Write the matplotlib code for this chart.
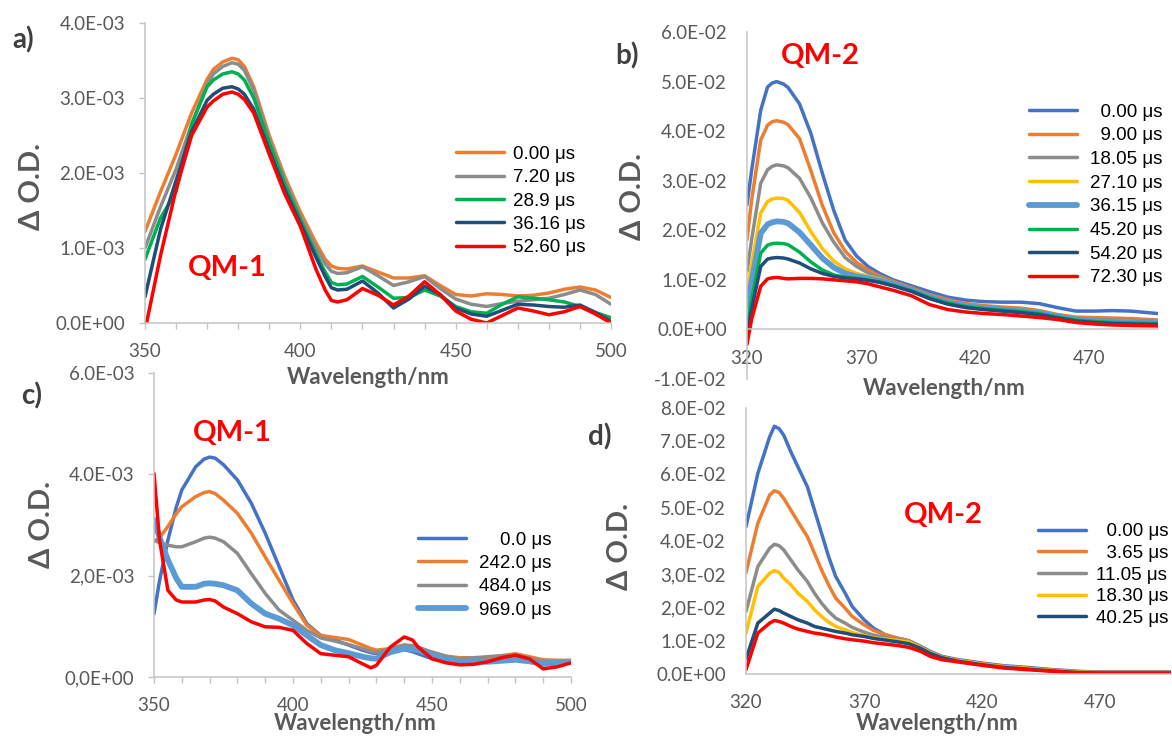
import matplotlib
matplotlib.use("Agg")
import matplotlib.pyplot as plt
from matplotlib.ticker import MultipleLocator

plt.rcParams["font.family"] = ["Lato", "DejaVu Sans"]

W, H = 1172, 737

# ---------------- a) QM-1, short delays (units of 1E-3) ----------------
wl_a = [350, 355, 360, 365, 370, 372, 375, 378, 380, 382, 385, 390, 395, 400, 405, 408, 410, 412,
        415, 420, 425, 430, 435, 440, 445, 450, 455, 460, 465, 470, 475, 480, 485, 490, 495, 500]
a_0_00 = [1.22, 1.75, 2.25, 2.80, 3.25, 3.38, 3.48, 3.53, 3.51, 3.42, 3.15, 2.50, 1.95, 1.48, 1.07, 0.85, 0.76, 0.73,
          0.72, 0.76, 0.68, 0.60, 0.60, 0.63, 0.50, 0.38, 0.36, 0.39, 0.38, 0.36, 0.37, 0.40, 0.45, 0.48, 0.44, 0.34]
a_7_20 = [1.00, 1.55, 2.05, 2.65, 3.18, 3.32, 3.42, 3.47, 3.45, 3.37, 3.10, 2.45, 1.90, 1.42, 1.00, 0.79, 0.69, 0.66,
          0.67, 0.75, 0.63, 0.50, 0.55, 0.62, 0.46, 0.32, 0.25, 0.22, 0.26, 0.29, 0.31, 0.33, 0.38, 0.44, 0.38, 0.25]
a_28_9 = [0.85, 1.40, 1.75, 2.65, 3.15, 3.24, 3.32, 3.35, 3.32, 3.24, 3.00, 2.40, 1.85, 1.38, 0.92, 0.68, 0.54, 0.51,
          0.52, 0.62, 0.48, 0.33, 0.34, 0.44, 0.36, 0.22, 0.15, 0.13, 0.25, 0.35, 0.33, 0.31, 0.28, 0.22, 0.14, 0.07]
a_36_16 = [0.35, 1.25, 1.90, 2.55, 2.97, 3.05, 3.13, 3.15, 3.12, 3.05, 2.85, 2.30, 1.78, 1.33, 0.88, 0.62, 0.47, 0.44,
           0.45, 0.56, 0.40, 0.20, 0.32, 0.49, 0.38, 0.20, 0.12, 0.09, 0.17, 0.25, 0.24, 0.22, 0.21, 0.24, 0.14, 0.02]
a_52_60 = [-0.10, 0.90, 1.78, 2.50, 2.88, 2.96, 3.05, 3.08, 3.05, 2.98, 2.80, 2.25, 1.72, 1.29, 0.72, 0.44, 0.30, 0.28,
           0.31, 0.46, 0.37, 0.24, 0.36, 0.55, 0.38, 0.16, 0.05, 0.00, 0.10, 0.20, 0.16, 0.11, 0.15, 0.22, 0.12, 0.00]
labels_a = ["0.00 μs", "7.20 μs", "28.9 μs", "36.16 μs", "52.60 μs"]

# ---------------- b) QM-2 (units of 1E-2) ----------------
wl_b = [320, 322, 326, 329, 331, 333, 336, 338, 343, 348, 353, 358, 363, 368, 373, 378, 384, 392,
        400, 408, 416, 424, 432, 440, 448, 456, 464, 472, 480, 488, 500]
b_0_00 = [2.51, 3.20, 4.42, 4.89, 4.97, 5.00, 4.95, 4.88, 4.55, 3.95, 3.15, 2.40, 1.80, 1.48, 1.27, 1.13, 1.00, 0.88,
          0.76, 0.65, 0.59, 0.56, 0.55, 0.55, 0.52, 0.44, 0.37, 0.37, 0.38, 0.37, 0.32]
b_9_00 = [1.81, 2.60, 3.82, 4.12, 4.19, 4.21, 4.18, 4.13, 3.85, 3.20, 2.50, 1.95, 1.58, 1.35, 1.20, 1.08, 0.97, 0.84,
          0.70, 0.60, 0.52, 0.48, 0.45, 0.43, 0.38, 0.30, 0.25, 0.24, 0.23, 0.22, 0.19]
b_18_05 = [1.17, 1.80, 2.95, 3.22, 3.29, 3.32, 3.30, 3.26, 3.05, 2.65, 2.15, 1.76, 1.45, 1.27, 1.14, 1.05, 0.95, 0.82,
           0.67, 0.56, 0.48, 0.44, 0.41, 0.38, 0.34, 0.27, 0.21, 0.20, 0.19, 0.18, 0.16]
b_27_10 = [0.74, 1.30, 2.35, 2.58, 2.63, 2.65, 2.64, 2.60, 2.36, 1.97, 1.63, 1.38, 1.22, 1.13, 1.07, 1.02, 0.93, 0.80,
           0.66, 0.55, 0.48, 0.44, 0.41, 0.38, 0.34, 0.27, 0.20, 0.18, 0.17, 0.16, 0.15]
b_36_15 = [0.47, 0.95, 1.94, 2.12, 2.16, 2.18, 2.17, 2.14, 1.96, 1.70, 1.44, 1.25, 1.13, 1.07, 1.03, 0.98, 0.91, 0.79,
           0.65, 0.54, 0.47, 0.43, 0.40, 0.37, 0.33, 0.26, 0.20, 0.17, 0.15, 0.14, 0.13]
b_45_20 = [0.13, 0.60, 1.54, 1.70, 1.73, 1.74, 1.73, 1.71, 1.56, 1.36, 1.20, 1.10, 1.05, 1.03, 1.00, 0.96, 0.89, 0.78,
           0.64, 0.53, 0.46, 0.42, 0.39, 0.36, 0.32, 0.25, 0.19, 0.16, 0.14, 0.13, 0.12]
b_54_20 = [-0.07, 0.40, 1.27, 1.42, 1.44, 1.45, 1.44, 1.42, 1.34, 1.22, 1.13, 1.07, 1.04, 1.02, 0.99, 0.95, 0.88, 0.77,
           0.62, 0.51, 0.44, 0.40, 0.37, 0.34, 0.30, 0.23, 0.17, 0.14, 0.12, 0.11, 0.10]
b_72_30 = [-0.30, 0.20, 0.87, 1.02, 1.04, 1.05, 1.03, 1.02, 1.03, 1.03, 1.02, 1.00, 0.98, 0.96, 0.92, 0.86, 0.79, 0.68,
           0.50, 0.40, 0.35, 0.32, 0.30, 0.27, 0.24, 0.20, 0.14, 0.11, 0.09, 0.08, 0.07]
labels_b = ["  0.00 μs", "  9.00 μs", "18.05 μs", "27.10 μs", "36.15 μs", "45.20 μs", "54.20 μs", "72.30 μs"]

# ---------------- c) QM-1, long delays (units of 1E-3) ----------------
wl_c = [350, 352, 355, 358, 360, 365, 368, 370, 372, 375, 380, 385, 390, 395, 400, 405, 410, 415, 420, 425,
        428, 430, 435, 440, 443, 445, 450, 455, 460, 465, 470, 475, 480, 485, 490, 495, 500]
c_0_0 = [1.25, 1.90, 2.70, 3.35, 3.69, 4.15, 4.30, 4.34, 4.32, 4.19, 3.89, 3.43, 2.84, 2.18, 1.52, 1.05, 0.82, 0.73, 0.63, 0.53,
         0.48, 0.46, 0.49, 0.54, 0.50, 0.46, 0.36, 0.30, 0.28, 0.30, 0.33, 0.35, 0.36, 0.33, 0.30, 0.30, 0.30]
c_242_0 = [2.67, 2.75, 2.97, 3.22, 3.36, 3.56, 3.64, 3.66, 3.62, 3.49, 3.23, 2.84, 2.37, 1.91, 1.45, 1.02, 0.82, 0.78, 0.74, 0.63,
           0.56, 0.53, 0.56, 0.63, 0.60, 0.56, 0.49, 0.41, 0.38, 0.38, 0.38, 0.42, 0.46, 0.40, 0.34, 0.33, 0.33]
c_484_0 = [2.70, 2.65, 2.60, 2.57, 2.57, 2.67, 2.74, 2.76, 2.74, 2.67, 2.44, 2.04, 1.65, 1.32, 1.12, 0.92, 0.77, 0.71, 0.64, 0.56,
           0.50, 0.48, 0.56, 0.63, 0.62, 0.59, 0.49, 0.41, 0.36, 0.38, 0.40, 0.42, 0.43, 0.37, 0.30, 0.30, 0.30]
c_969_0 = [3.10, 2.75, 2.31, 1.95, 1.78, 1.78, 1.84, 1.85, 1.84, 1.81, 1.71, 1.45, 1.25, 1.15, 1.02, 0.82, 0.63, 0.53, 0.47, 0.40,
           0.37, 0.36, 0.49, 0.56, 0.55, 0.53, 0.43, 0.34, 0.30, 0.30, 0.30, 0.32, 0.34, 0.31, 0.26, 0.28, 0.30]
c_last = [4.02, 2.70, 1.71, 1.52, 1.48, 1.48, 1.52, 1.53, 1.50, 1.38, 1.25, 1.09, 0.99, 0.98, 0.92, 0.66, 0.46, 0.43, 0.40, 0.26,
          0.18, 0.23, 0.59, 0.79, 0.73, 0.59, 0.36, 0.28, 0.24, 0.25, 0.30, 0.38, 0.43, 0.36, 0.16, 0.20, 0.28]
labels_c = ["    0.0 μs", "242.0 μs", "484.0 μs", "969.0 μs"]

# ---------------- d) QM-2 (units of 1E-2) ----------------
wl_d = [320, 325, 330, 332, 334, 336, 339, 342, 346, 349, 352, 355, 358, 362, 365, 370, 374,
        379, 384, 389, 394, 398, 403, 410, 420, 429, 439, 450, 461, 470, 482, 500]
d_0_00 = [4.43, 6.03, 7.13, 7.45, 7.38, 7.18, 6.68, 6.23, 5.63, 4.93, 4.23, 3.53, 2.93, 2.43, 2.03, 1.63, 1.38,
          1.18, 1.08, 1.00, 0.83, 0.68, 0.53, 0.43, 0.33, 0.25, 0.20, 0.13, 0.08, 0.06, 0.06, 0.06]
d_3_65 = [3.05, 4.53, 5.38, 5.51, 5.46, 5.28, 4.93, 4.58, 4.13, 3.63, 3.13, 2.68, 2.28, 1.98, 1.73, 1.48, 1.31,
          1.18, 1.08, 1.00, 0.81, 0.66, 0.51, 0.41, 0.31, 0.23, 0.18, 0.12, 0.07, 0.05, 0.05, 0.05]
d_11_05 = [1.88, 3.23, 3.78, 3.90, 3.86, 3.73, 3.43, 3.13, 2.78, 2.43, 2.13, 1.88, 1.68, 1.53, 1.40, 1.26, 1.17,
           1.10, 1.05, 0.98, 0.80, 0.65, 0.51, 0.40, 0.30, 0.22, 0.17, 0.11, 0.06, 0.05, 0.05, 0.05]
d_18_30 = [1.23, 2.63, 3.03, 3.11, 3.06, 2.88, 2.68, 2.43, 2.18, 1.93, 1.73, 1.56, 1.43, 1.33, 1.25, 1.15, 1.09,
           1.05, 1.01, 0.96, 0.79, 0.64, 0.50, 0.40, 0.30, 0.22, 0.17, 0.10, 0.05, 0.04, 0.04, 0.04]
d_40_25 = [0.45, 1.53, 1.83, 1.95, 1.91, 1.83, 1.73, 1.63, 1.53, 1.43, 1.38, 1.33, 1.28, 1.23, 1.18, 1.13, 1.07,
           1.02, 0.97, 0.91, 0.77, 0.62, 0.49, 0.38, 0.28, 0.20, 0.15, 0.09, 0.04, 0.03, 0.03, 0.03]
d_last = [0.13, 1.23, 1.53, 1.61, 1.58, 1.53, 1.43, 1.35, 1.28, 1.23, 1.20, 1.16, 1.11, 1.06, 1.03, 0.99, 0.94,
          0.90, 0.86, 0.80, 0.68, 0.53, 0.43, 0.36, 0.26, 0.18, 0.13, 0.08, 0.03, 0.02, 0.02, 0.02]
labels_d = ["  0.00 μs", "  3.65 μs", "11.05 μs", "18.30 μs", "40.25 μs"]

# tick labels as printed on the original
ytl_a = ["0.0E+00", "1.0E-03", "2.0E-03", "3.0E-03", "4.0E-03"]
ytl_b = ["-1.0E-02", "0.0E+00", "1.0E-02", "2.0E-02", "3.0E-02", "4.0E-02", "5.0E-02", "6.0E-02"]
ytl_c = ["0,0E+00", "2,0E-03", "4.0E-03", "6.0E-03"]
ytl_d = ["0.0E+00", "1.0E-02", "2,0E-02", "3,0E-02", "4.0E-02", "5.0E-02", "6.0E-02", "7.0E-02", "8.0E-02"]
xt_short = [350, 400, 450, 500]
xt_long = [320, 370, 420, 470]

BLUE, ORANGE, GRAY, YELLOW = "#4472C4", "#ED7D31", "#8C8C8C", "#FFC000"
LBLUE, GREEN, NAVY, RED = "#5B9BD5", "#00B050", "#1F4E79", "#FF0000"
AXIS, TXT, LETTER = "#C4C4C4", "#595959", "#404040"
LW, LW_THICK = 2.5, 4.2

fig = plt.figure(figsize=(W / 100, H / 100), dpi=100)


def px_axes(l, t, r, b):
    return fig.add_axes([l / W, 1 - b / H, (r - l) / W, (b - t) / H])


def ftext(x, y, s, **kw):
    fig.text(x / W, 1 - y / H, s, **kw)


def draw(ax, wl, series):
    return [ax.plot(wl, v, color=c, lw=w, solid_capstyle="round", solid_joinstyle="round")[0]
            for v, c, w in series]


def style(ax, xlim, ylim, xt, yt, ytl, marks):
    ax.set_xlim(*xlim)
    ax.set_ylim(*ylim)
    ax.set_facecolor("none")
    for s in ("top", "right"):
        ax.spines[s].set_visible(False)
    for s in ("left", "bottom"):
        ax.spines[s].set_color(AXIS)
        ax.spines[s].set_linewidth(1.1)
    ax.spines["bottom"].set_position(("data", 0))
    ax.set_xticks(xt, [str(v) for v in xt])
    ax.set_yticks(yt, ytl)
    ax.tick_params(which="both", direction="out", length=4.3 if marks else 0, width=1,
                   color=AXIS, labelcolor=TXT, labelsize=13.5, pad=10 if marks else 14.5)
    if marks:
        ax.xaxis.set_minor_locator(MultipleLocator(10))


def legend(ax, lines, labels, x, y, textpad, spacing):
    ax.legend(lines, labels, loc="center left", bbox_to_anchor=(x / W, 1 - y / H),
              bbox_transform=fig.transFigure, frameon=False, borderpad=0, borderaxespad=0,
              handlelength=2.56, handletextpad=textpad, labelspacing=spacing,
              prop={"family": "Liberation Sans", "size": 13.5})


# ---- a ----
ax = px_axes(145, 23, 611, 323)
lines = draw(ax, wl_a, [(a_0_00, ORANGE, LW), (a_7_20, GRAY, LW), (a_28_9, GREEN, LW),
                        (a_36_16, NAVY, LW), (a_52_60, RED, LW)])
style(ax, (350, 500), (0, 4), xt_short, [0, 1, 2, 3, 4], ytl_a, True)
legend(ax, lines, labels_a, 456, 201, 0.48, 0.33)

# ---- b ----
ax = px_axes(747, 32, 1158, 379)
lines = draw(ax, wl_b, [(b_0_00, BLUE, LW), (b_9_00, ORANGE, LW), (b_18_05, GRAY, LW), (b_27_10, YELLOW, LW),
                        (b_36_15, LBLUE, LW_THICK), (b_45_20, GREEN, LW), (b_54_20, NAVY, LW), (b_72_30, RED, LW)])
style(ax, (320, 500), (-1, 6), xt_long, list(range(-1, 7)), ytl_b, False)
legend(ax, lines, labels_b, 1029, 195, 0.69, 0.35)

# ---- c ----
ax = px_axes(154, 373, 571, 677)
lines = draw(ax, wl_c, [(c_0_0, BLUE, LW), (c_242_0, ORANGE, LW), (c_484_0, GRAY, LW),
                        (c_969_0, LBLUE, LW_THICK), (c_last, RED, LW)])
style(ax, (350, 500), (0, 6), xt_short, [0, 2, 4, 6], ytl_c, True)
legend(ax, lines[:4], labels_c, 418, 575, 0.69, 0.33)

# ---- d ----
ax = px_axes(746, 408, 1171, 674)
lines = draw(ax, wl_d, [(d_0_00, BLUE, LW), (d_3_65, ORANGE, LW), (d_11_05, GRAY, LW), (d_18_30, YELLOW, LW),
                        (d_40_25, NAVY, LW), (d_last, RED, LW)])
style(ax, (320, 500), (0, 8), xt_long, list(range(0, 9)), ytl_d, False)
legend(ax, lines[:5], labels_d, 1038, 575, 0.53, 0.24)

# ---- texts ----
for x, y, s in [(12, 40, "a)"), (615, 56, "b)"), (21, 396, "c)"), (588, 437, "d)")]:
    ftext(x, y, s, fontsize=20, fontweight="bold", color=LETTER, ha="left", va="center")
for x, y in [(32, 186), (633, 197), (42, 525), (620, 547)]:
    ftext(x, y, "Δ O.D.", fontsize=21, fontweight="bold", color=TXT, rotation=90, ha="center", va="center")
for x, y in [(368, 377), (944, 388), (355, 723), (937, 723)]:
    ftext(x, y, "Wavelength/nm", fontsize=16, fontweight="bold", color=TXT, ha="center", va="center")
for x, y, s in [(227, 268, "QM-1"), (820, 56, "QM-2"), (232, 433, "QM-1"), (943, 515, "QM-2")]:
    ftext(x, y, s, fontsize=21, fontweight="bold", color=RED, ha="center", va="center")

fig.savefig("out.png", dpi=100)
